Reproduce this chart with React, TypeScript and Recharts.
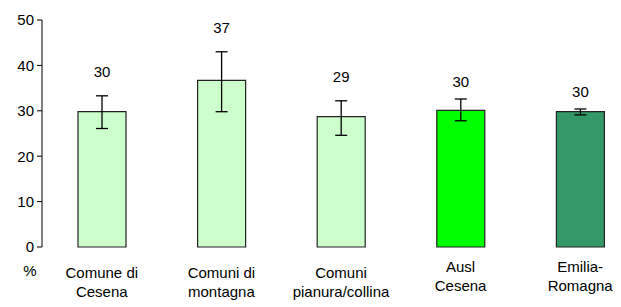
import { Bar, BarChart, Cell, ErrorBar, LabelList, XAxis, YAxis } from "recharts"

const CATEGORIES = [
  ["Comune di", "Cesena"],
  ["Comuni di", "montagna"],
  ["Comuni", "pianura/collina"],
  ["Ausl", "Cesena"],
  ["Emilia-", "Romagna"],
]
const VALUES = [29.8, 36.7, 28.7, 30.1, 29.8]
const CI_LOW = [26.1, 29.8, 24.6, 27.8, 29.1]
const CI_HIGH = [33.3, 43.0, 32.2, 32.6, 30.4]
const VALUE_LABELS = ["30", "37", "29", "30", "30"]
const Y_TICKS = [0, 10, 20, 30, 40, 50]

const BAR_COLORS = ["#ccffcc", "#ccffcc", "#ccffcc", "#00ff00", "#339966"]
const FONT = "Arial, 'Liberation Sans', sans-serif"

const data = CATEGORIES.map((lines, i) => ({
  name: lines.join(" "),
  value: VALUES[i],
  err: [VALUES[i] - CI_LOW[i], CI_HIGH[i] - VALUES[i]],
}))

function CategoryTick({ x, y, index }: any) {
  const lines = CATEGORIES[index] ?? []
  // the last two labels sit a little higher in the original
  const top = index >= 3 ? 25 : 31
  return (
    <g>
      {lines.map((line, i) => (
        <text
          key={i}
          x={x}
          y={y + top + i * 19}
          textAnchor="middle"
          fontSize={15}
          fontFamily={FONT}
          fill="#000"
        >
          {line}
        </text>
      ))}
    </g>
  )
}

function ValueLabel({ x, y, width, height, value, index }: any) {
  const pxPerUnit = height / value
  const errTop = y - (CI_HIGH[index] - value) * pxPerUnit
  const gap = index >= 3 ? 12 : 19
  return (
    <text
      x={x + width / 2}
      y={errTop - gap}
      textAnchor="middle"
      fontSize={15}
      fontFamily={FONT}
      fill="#000"
    >
      {VALUE_LABELS[index]}
    </text>
  )
}

function PercentLabel({ viewBox }: any) {
  return (
    <text
      x={viewBox.x + viewBox.width - 12}
      y={viewBox.y + viewBox.height + 29}
      textAnchor="middle"
      fontSize={15}
      fontFamily={FONT}
      fill="#000"
    >
      %
    </text>
  )
}

export default function App() {
  return (
    <div style={{ width: 613, height: 299, overflow: "hidden" }}>
      <BarChart
        width={632}
        height={299}
        data={data}
        margin={{ top: 12, right: 0, bottom: 0, left: 0 }}
      >
        <XAxis
          dataKey="name"
          axisLine={false}
          tickLine={false}
          tickSize={0}
          tickMargin={0}
          height={60}
          interval={0}
          tick={<CategoryTick />}
        />
        <YAxis
          width={34}
          domain={[0, 50]}
          ticks={Y_TICKS}
          interval={0}
          tickSize={5}
          tickMargin={3}
          axisLine={{ stroke: "#000", strokeWidth: 1 }}
          tickLine={{ stroke: "#000", strokeWidth: 1 }}
          tick={{ fontSize: 15, fontFamily: FONT, fill: "#000" }}
          label={<PercentLabel />}
        />
        <Bar dataKey="value" barSize={48} stroke="#222" strokeWidth={1.2} isAnimationActive={false}>
          {data.map((_, i) => (
            <Cell key={i} fill={BAR_COLORS[i]} />
          ))}
          <ErrorBar dataKey="err" direction="y" width={6} stroke="#000" strokeWidth={1.3} />
          <LabelList dataKey="value" content={<ValueLabel />} />
        </Bar>
      </BarChart>
    </div>
  )
}
